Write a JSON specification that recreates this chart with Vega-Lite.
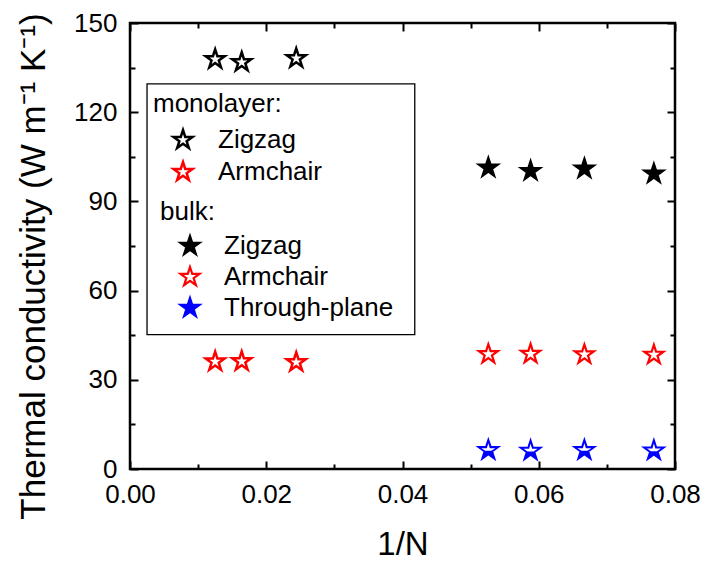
{
  "$schema": "https://vega.github.io/schema/vega-lite/v6.json",
  "width": 545,
  "height": 446,
  "autosize": {"type": "none"},
  "padding": {"left": 130, "top": 23, "right": 32, "bottom": 94},
  "background": "white",
  "config": {
    "font": "Liberation Sans",
    "view": {"stroke": "black", "strokeWidth": 2.5},
    "axis": {
      "grid": false,
      "domain": false,
      "tickColor": "black",
      "tickWidth": 2,
      "labelColor": "black",
      "titleColor": "black",
      "labelFont": "Liberation Sans",
      "titleFont": "Liberation Sans",
      "labelFontSize": 26,
      "titleFontSize": 33,
      "titleFontWeight": "normal",
      "labelFlush": false,
      "labelOverlap": false
    },
    "legend": {
      "labelFont": "Liberation Sans",
      "titleFont": "Liberation Sans",
      "labelFontSize": 26,
      "titleFontSize": 26,
      "titleFontWeight": "normal",
      "labelColor": "black",
      "titleColor": "black",
      "padding": 0,
      "symbolSize": 400,
      "symbolStrokeWidth": 2.2,
      "labelLimit": 400
    }
  },
  "data": {
    "values": [
      {"layer": "monolayer", "dir": "Zigzag", "invN": 0.0125, "kappa": 137.8},
      {"layer": "monolayer", "dir": "Zigzag", "invN": 0.0164, "kappa": 136.8},
      {"layer": "monolayer", "dir": "Zigzag", "invN": 0.0244, "kappa": 138.1},
      {"layer": "monolayer", "dir": "Armchair", "invN": 0.0125, "kappa": 36.1},
      {"layer": "monolayer", "dir": "Armchair", "invN": 0.0164, "kappa": 36.2},
      {"layer": "monolayer", "dir": "Armchair", "invN": 0.0244, "kappa": 35.9},
      {"layer": "bulk", "dir": "Zigzag", "invN": 0.0526, "kappa": 101.3},
      {"layer": "bulk", "dir": "Zigzag", "invN": 0.0588, "kappa": 100.2},
      {"layer": "bulk", "dir": "Zigzag", "invN": 0.0667, "kappa": 101.0},
      {"layer": "bulk", "dir": "Zigzag", "invN": 0.0769, "kappa": 99.3},
      {"layer": "bulk", "dir": "Armchair", "invN": 0.0526, "kappa": 38.6},
      {"layer": "bulk", "dir": "Armchair", "invN": 0.0588, "kappa": 38.7},
      {"layer": "bulk", "dir": "Armchair", "invN": 0.0667, "kappa": 38.5},
      {"layer": "bulk", "dir": "Armchair", "invN": 0.0769, "kappa": 38.4},
      {"layer": "bulk", "dir": "Through-plane", "invN": 0.0526, "kappa": 6.3},
      {"layer": "bulk", "dir": "Through-plane", "invN": 0.0588, "kappa": 6.1},
      {"layer": "bulk", "dir": "Through-plane", "invN": 0.0667, "kappa": 6.3},
      {"layer": "bulk", "dir": "Through-plane", "invN": 0.0769, "kappa": 6.2}
    ]
  },
  "layer": [
    {
      "data": {"values": [{}]},
      "mark": {"type": "rect", "filled": false, "color": "black", "strokeWidth": 1.3},
      "encoding": {
        "x": {
          "datum": 0.0025,
          "type": "quantitative",
          "scale": {"domain": [0, 0.08], "nice": false, "zero": false},
          "axis": {
            "orient": "bottom",
            "values": [0, 0.02, 0.04, 0.06, 0.08],
            "format": ".2f",
            "tickSize": -8,
            "labelPadding": 20,
            "title": "1/N",
            "titlePadding": 21
          }
        },
        "x2": {"datum": 0.0418},
        "y": {
          "datum": 129.5,
          "type": "quantitative",
          "scale": {"domain": [0, 150], "nice": false, "zero": false},
          "axis": {
            "orient": "left",
            "values": [0, 30, 60, 90, 120, 150],
            "tickSize": -8,
            "labelPadding": 21,
            "title": "Thermal conductivity (W m⁻¹ K⁻¹)",
            "titleFontSize": 35,
            "titleY": 243,
            "titlePadding": 22
          }
        },
        "y2": {"datum": 45.2}
      }
    },
    {
      "transform": [{"filter": "datum.layer === 'monolayer'"}],
      "mark": {
        "type": "point",
        "shape": "M0,-1L0.2245,-0.309L0.951,-0.309L0.3633,0.118L0.5878,0.809L0,0.382L-0.5878,0.809L-0.3633,0.118L-0.951,-0.309L-0.2245,-0.309Z",
        "size": 400,
        "filled": false,
        "strokeWidth": 2.5,
        "opacity": 1
      },
      "encoding": {
        "x": {
          "field": "invN",
          "type": "quantitative",
          "scale": {"domain": [0, 0.08], "nice": false, "zero": false},
          "axis": {"orient": "top", "values": [0, 0.02, 0.04, 0.06, 0.08], "labels": false, "tickSize": -8, "title": null}
        },
        "y": {
          "field": "kappa",
          "type": "quantitative",
          "scale": {"domain": [0, 150], "nice": false, "zero": false},
          "axis": {"orient": "right", "values": [0, 30, 60, 90, 120, 150], "labels": false, "tickSize": -8, "title": null}
        },
        "stroke": {
          "field": "dir",
          "type": "nominal",
          "scale": {"domain": ["Zigzag", "Armchair"], "range": ["black", "red"]},
          "legend": {
            "title": "monolayer:",
            "orient": "none",
            "legendX": 23,
            "legendY": 68,
            "symbolOffset": 17,
            "labelOffset": 22,
            "rowPadding": 3,
            "titlePadding": 10,
            "symbolStrokeWidth": 2.5,
            "symbolType": "M0,-1L0.2245,-0.309L0.951,-0.309L0.3633,0.118L0.5878,0.809L0,0.382L-0.5878,0.809L-0.3633,0.118L-0.951,-0.309L-0.2245,-0.309Z"
          }
        }
      }
    },
    {
      "transform": [{"filter": "datum.layer === 'bulk'"}],
      "mark": {
        "type": "point",
        "shape": "M0,-1L0.2245,-0.309L0.951,-0.309L0.3633,0.118L0.5878,0.809L0,0.382L-0.5878,0.809L-0.3633,0.118L-0.951,-0.309L-0.2245,-0.309Z",
        "size": 400,
        "strokeWidth": 2.2,
        "opacity": 1
      },
      "encoding": {
        "x": {
          "field": "invN",
          "type": "quantitative",
          "scale": {"domain": [0, 0.08], "nice": false, "zero": false},
          "axis": {"orient": "bottom", "values": [0.01, 0.03, 0.05, 0.07], "labels": false, "tickSize": -5, "title": null}
        },
        "y": {
          "field": "kappa",
          "type": "quantitative",
          "scale": {"domain": [0, 150], "nice": false, "zero": false},
          "axis": {"orient": "left", "values": [15, 45, 75, 105, 135], "labels": false, "tickSize": -5, "title": null}
        },
        "stroke": {
          "field": "dir",
          "type": "nominal",
          "scale": {"domain": ["Zigzag", "Armchair", "Through-plane"], "range": ["black", "red", "blue"]},
          "legend": {
            "title": "bulk:",
            "orient": "none",
            "legendX": 30,
            "legendY": 176,
            "symbolOffset": 17,
            "labelOffset": 21,
            "rowPadding": 3,
            "titlePadding": 8,
            "symbolType": "M0,-1L0.2245,-0.309L0.951,-0.309L0.3633,0.118L0.5878,0.809L0,0.382L-0.5878,0.809L-0.3633,0.118L-0.951,-0.309L-0.2245,-0.309Z"
          }
        },
        "fill": {
          "field": "dir",
          "type": "nominal",
          "scale": {"domain": ["Zigzag", "Armchair", "Through-plane"], "range": ["black", "white", "blue"]},
          "legend": {
            "title": "bulk:",
            "orient": "none",
            "legendX": 30,
            "legendY": 176,
            "symbolOffset": 17,
            "labelOffset": 21,
            "rowPadding": 3,
            "titlePadding": 8,
            "symbolType": "M0,-1L0.2245,-0.309L0.951,-0.309L0.3633,0.118L0.5878,0.809L0,0.382L-0.5878,0.809L-0.3633,0.118L-0.951,-0.309L-0.2245,-0.309Z"
          }
        }
      }
    },
    {
      "transform": [{"filter": "datum.layer === 'bulk' && datum.dir === 'Through-plane'"}],
      "mark": {
        "type": "point",
        "shape": "M0,-0.7L0.15,-0.2L0.7,-0.2L0.3,0.06L-0.3,0.06L-0.7,-0.2L-0.15,-0.2Z",
        "size": 400,
        "filled": true,
        "fill": "white",
        "strokeWidth": 0,
        "opacity": 1
      },
      "encoding": {
        "x": {
          "field": "invN",
          "type": "quantitative",
          "scale": {"domain": [0, 0.08], "nice": false, "zero": false},
          "axis": {"orient": "top", "values": [0.01, 0.03, 0.05, 0.07], "labels": false, "tickSize": -5, "title": null}
        },
        "y": {
          "field": "kappa",
          "type": "quantitative",
          "scale": {"domain": [0, 150], "nice": false, "zero": false},
          "axis": {"orient": "right", "values": [15, 45, 75, 105, 135], "labels": false, "tickSize": -5, "title": null}
        }
      }
    }
  ],
  "resolve": {
    "axis": {"x": "independent", "y": "independent"},
    "scale": {"stroke": "independent", "fill": "independent"}
  }
}
